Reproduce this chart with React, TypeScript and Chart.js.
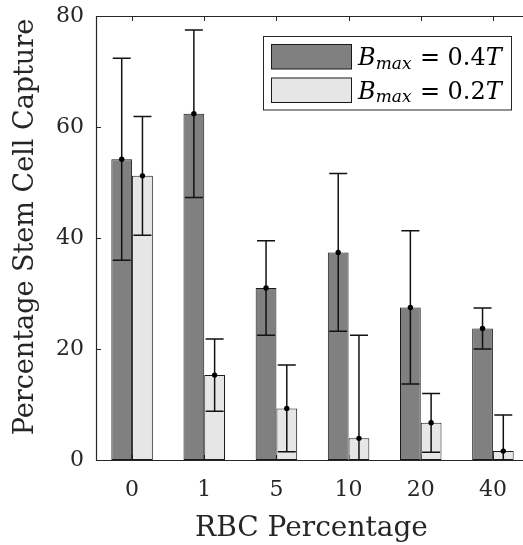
import { useEffect, useRef } from "react";
import { Chart, registerables } from "chart.js";

Chart.register(...registerables);

const categories = ["0", "1", "5", "10", "20", "40"];
const seriesLabels = ["B_max = 0.4T", "B_max = 0.2T"];
const highFieldValues = [54.2, 62.4, 31.0, 37.4, 27.5, 23.7];
const highFieldErrors = [18.2, 15.1, 8.5, 14.2, 13.8, 3.7];
const lowFieldValues = [51.2, 15.3, 9.3, 3.9, 6.7, 1.6];
const lowFieldErrors = [10.7, 6.5, 7.8, 18.6, 5.3, 6.5];
const yTickValues = [0, 20, 40, 60, 80];
const xTitle = "RBC Percentage";
const yTitle = "Percentage Stem Cell Capture";

const FONT = '"DejaVu Serif"';
const AXIS = "#262626";
const seriesColors = ["#808080", "#e6e6e6"];
const seriesErrors = [highFieldErrors, lowFieldErrors];

function drawMathLabel(ctx: CanvasRenderingContext2D, label: string, x: number, baseline: number) {
  const m = label.match(/^(\w)_(\w+) = ([\d.]+)(\w)$/);
  if (!m) return;
  const [, base, sub, num, unit] = m;
  ctx.fillStyle = "#000";
  ctx.textAlign = "left";
  ctx.textBaseline = "alphabetic";
  ctx.font = `italic 24px ${FONT}`;
  ctx.fillText(base, x, baseline);
  x += ctx.measureText(base).width;
  ctx.font = `italic 17px ${FONT}`;
  ctx.fillText(sub, x, baseline + 3.5);
  x += ctx.measureText(sub).width + 8.5;
  ctx.font = `24px ${FONT}`;
  ctx.fillText("=", x, baseline);
  x += ctx.measureText("=").width + 7.5;
  ctx.fillText(num, x, baseline);
  x += ctx.measureText(num).width;
  ctx.font = `italic 24px ${FONT}`;
  ctx.fillText(unit, x, baseline);
}

const decorPlugin = {
  id: "decor",
  beforeDatasetsDraw(chart: any) {
    const { ctx, chartArea: a, scales } = chart;
    ctx.save();
    ctx.strokeStyle = AXIS;
    ctx.lineWidth = 1;
    ctx.beginPath();
    scales.y.ticks.forEach((t: any) => {
      const y = Math.round(scales.y.getPixelForValue(t.value)) + 0.5;
      ctx.moveTo(a.left, y);
      ctx.lineTo(a.left + 5, y);
      ctx.moveTo(a.right, y);
      ctx.lineTo(a.right - 5, y);
    });
    categories.forEach((_, i) => {
      const x = Math.round(scales.x.getPixelForValue(i)) + 0.5;
      ctx.moveTo(x, a.top);
      ctx.lineTo(x, a.top + 5);
      ctx.moveTo(x, a.bottom);
      ctx.lineTo(x, a.bottom - 5);
    });
    ctx.stroke();
    ctx.restore();
  },
  afterDatasetsDraw(chart: any) {
    const { ctx, chartArea: a, scales } = chart;
    // error bars
    ctx.save();
    ctx.beginPath();
    ctx.rect(a.left, a.top, a.right - a.left, a.bottom - a.top + 0.5);
    ctx.clip();
    chart.data.datasets.forEach((ds: any, di: number) => {
      const meta = chart.getDatasetMeta(di);
      const errs = seriesErrors[di];
      meta.data.forEach((el: any, i: number) => {
        const v = ds.data[i];
        const x = el.x;
        const yv = scales.y.getPixelForValue(v);
        const yt = scales.y.getPixelForValue(v + errs[i]);
        const yb = scales.y.getPixelForValue(v - errs[i]);
        ctx.strokeStyle = "#111";
        ctx.lineWidth = 1.5;
        ctx.beginPath();
        ctx.moveTo(x, yt);
        ctx.lineTo(x, yb);
        ctx.moveTo(x - 9, yt);
        ctx.lineTo(x + 9, yt);
        ctx.moveTo(x - 9, yb);
        ctx.lineTo(x + 9, yb);
        ctx.stroke();
        ctx.fillStyle = "#000";
        ctx.beginPath();
        ctx.arc(x, yv, 2.7, 0, Math.PI * 2);
        ctx.fill();
      });
    });
    ctx.restore();

    // axes box
    ctx.save();
    ctx.strokeStyle = AXIS;
    ctx.lineWidth = 1.2;
    ctx.beginPath();
    ctx.rect(a.left + 0.5, a.top + 0.5, a.right - a.left - 1, a.bottom - a.top);
    ctx.stroke();
    ctx.restore();

    // legend
    ctx.save();
    ctx.fillStyle = "#fff";
    ctx.strokeStyle = AXIS;
    ctx.lineWidth = 1;
    ctx.fillRect(263.5, 36.5, 248, 73.5);
    ctx.strokeRect(263.5, 36.5, 248, 73.5);
    chart.data.datasets.forEach((ds: any, di: number) => {
      const top = 44.5 + di * 33.5;
      ctx.fillStyle = ds.backgroundColor;
      ctx.fillRect(271.5, top, 80, 24.5);
      ctx.strokeStyle = "#1a1a1a";
      ctx.strokeRect(271.5, top, 80, 24.5);
      drawMathLabel(ctx, ds.label, 358, 65 + di * 33.5);
    });
    ctx.restore();

    // axis titles
    ctx.save();
    ctx.fillStyle = AXIS;
    ctx.font = `28px ${FONT}`;
    ctx.textAlign = "center";
    ctx.textBaseline = "alphabetic";
    ctx.fillText(xTitle, 311.5, 536);
    ctx.translate(33, 227);
    ctx.rotate(-Math.PI / 2);
    ctx.font = `27px ${FONT}`;
    ctx.fillText(yTitle, 0, 0);
    ctx.restore();
  },
};

export default function App() {
  const ref = useRef<HTMLCanvasElement>(null);
  useEffect(() => {
    if (!ref.current) return;
    const chart = new Chart(ref.current, {
      type: "bar",
      data: {
        labels: categories,
        datasets: [
          {
            label: seriesLabels[0],
            data: highFieldValues,
            backgroundColor: seriesColors[0],
            borderColor: "#1a1a1a",
            borderWidth: 1,
            borderSkipped: false,
            categoryPercentage: 0.575,
            barPercentage: 1,
          },
          {
            label: seriesLabels[1],
            data: lowFieldValues,
            backgroundColor: seriesColors[1],
            borderColor: "#1a1a1a",
            borderWidth: 1,
            borderSkipped: false,
            categoryPercentage: 0.575,
            barPercentage: 1,
          },
        ],
      },
      options: {
        animation: false,
        responsive: false,
        devicePixelRatio: 1,
        layout: { padding: { left: 0, top: 16, right: 11, bottom: 0 } },
        plugins: { legend: { display: false }, tooltip: { enabled: false } },
        scales: {
          x: {
            type: "category",
            offset: true,
            grid: { display: false },
            border: { display: false },
            ticks: { color: AXIS, font: { family: "DejaVu Serif", size: 22 }, padding: 9, maxRotation: 0 },
            afterFit: (s: any) => {
              s.height = 85;
              s.paddingLeft = 0;
              s.paddingRight = 0;
              s.paddingTop = 0;
              s.paddingBottom = 0;
            },
          },
          y: {
            min: 0,
            max: 80,
            grid: { display: false },
            border: { display: false },
            afterBuildTicks: (s: any) => {
              s.ticks = yTickValues.map((v) => ({ value: v }));
            },
            ticks: { color: AXIS, font: { family: "DejaVu Serif", size: 22 }, padding: 4 },
            afterFit: (s: any) => {
              s.width = 96;
              s.paddingTop = 0;
              s.paddingBottom = 0;
              s.paddingLeft = 0;
              s.paddingRight = 0;
            },
          },
        },
      },
      plugins: [decorPlugin],
    } as any);
    return () => chart.destroy();
  }, []);
  return (
    <div style={{ position: "fixed", left: 0, top: 0, width: 523, height: 545, overflow: "hidden", background: "#fff" }}>
      <canvas ref={ref} width={540} height={545} style={{ display: "block", width: 540, height: 545 }} />
    </div>
  );
}
